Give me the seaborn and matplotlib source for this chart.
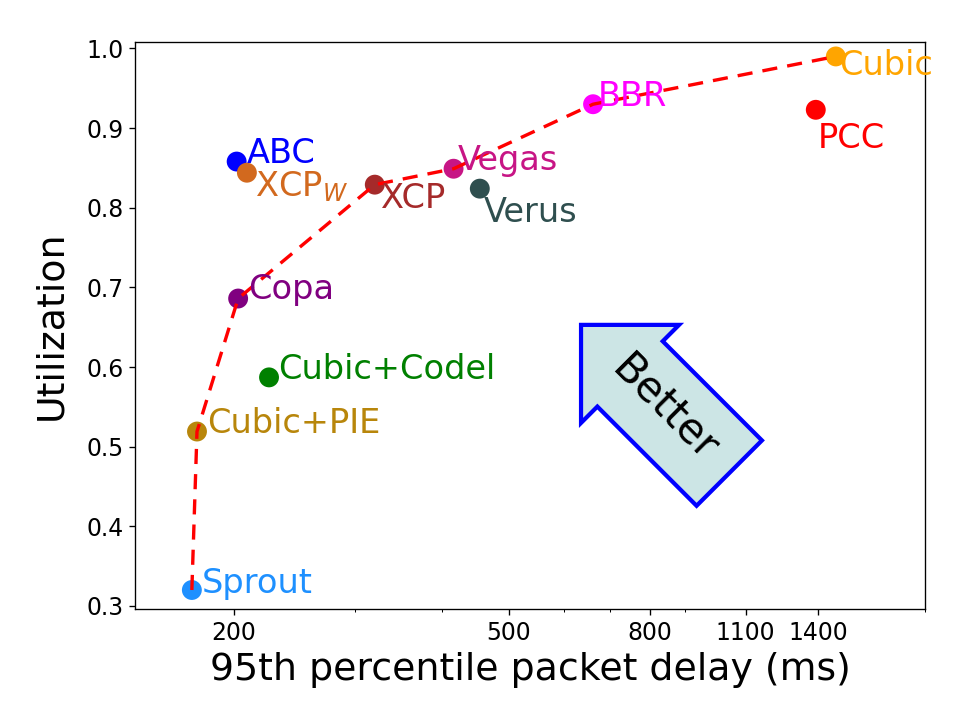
import matplotlib
matplotlib.use("Agg")
import matplotlib.pyplot as plt
import seaborn as sns
import pandas as pd

schemes = ["Sprout", "Cubic+PIE", "Copa", "Cubic+Codel", "ABC", "XCP$_W$", "XCP",
           "Vegas", "Verus", "BBR", "Cubic", "PCC"]
delay = [174, 177, 203, 225, 202, 209, 320, 416, 454, 662, 1486, 1390]
util = [0.320, 0.519, 0.686, 0.587, 0.858, 0.844, 0.829, 0.849, 0.824, 0.930, 0.990, 0.923]
colors = ["#1e90ff", "#b8860b", "purple", "green", "blue", "chocolate", "brown",
          "mediumvioletred", "darkslategray", "magenta", "orange", "red"]
# label offsets (points), text baseline relative to point
offsets = [(6, -2), (6, -1), (6, 0), (5.5, -1), (6, -1), (5, -14), (3.5, -14),
           (2.5, -1), (2.5, -20), (2.5, -1), (2, -11), (1, -23)]

frontier = ["Sprout", "Cubic+PIE", "Copa", "XCP", "Vegas", "BBR", "Cubic"]
xticks = [200, 500, 800, 1100, 1400]

df = pd.DataFrame({"scheme": schemes, "delay": delay, "util": util})
fr = df.set_index("scheme").loc[frontier].reset_index()

sns.set_style("ticks")
plt.rcParams['font.family'] = ['DejaVu Sans']
plt.rcParams['text.color'] = 'black'
plt.rcParams['axes.labelcolor'] = 'black'
plt.rcParams['xtick.color'] = 'black'
plt.rcParams['ytick.color'] = 'black'

fig, ax = plt.subplots(figsize=(8, 6), dpi=121)
fig.subplots_adjust(left=0.1395, right=0.9556, top=0.942, bottom=0.161)

sns.lineplot(data=fr, x="delay", y="util", ax=ax, color="red", linestyle="--",
             linewidth=2, sort=False, zorder=3, dashes=False)
ax.lines[0].set_dashes([4.5, 3])
sns.scatterplot(data=df, x="delay", y="util", hue="scheme", palette=colors,
                s=140, edgecolor="none", legend=False, ax=ax, zorder=2)

for name, xv, yv, c, (dx, dy) in zip(schemes, delay, util, colors, offsets):
    ax.annotate(name, (xv, yv), xytext=(dx, dy), textcoords="offset points",
                color=c, fontsize=20, ha="left", va="baseline")

ax.set_xscale("log")
ax.set_xlim(144, 2000)
ax.set_ylim(0.296, 1.008)
ax.set_xticks(xticks)
ax.set_xticklabels([str(t) for t in xticks])
ax.set_yticks([0.3, 0.4, 0.5, 0.6, 0.7, 0.8, 0.9, 1.0])
ax.tick_params(labelsize=14, colors="black")
ax.set_xlabel("95th percentile packet delay (ms)", fontsize=22.5)
ax.set_ylabel("Utilization", fontsize=22.5, labelpad=10)
for s in ax.spines.values():
    s.set_visible(True)
    s.set_color("black")

ax.text(0.671, 0.353, "Better", transform=ax.transAxes, rotation=-45,
        ha="center", va="center", fontsize=25, color="black",
        bbox=dict(boxstyle="larrow,pad=0.6", facecolor="#cce5e5",
                  edgecolor="blue", linewidth=2.5))

fig.savefig("out.png", dpi=121)
